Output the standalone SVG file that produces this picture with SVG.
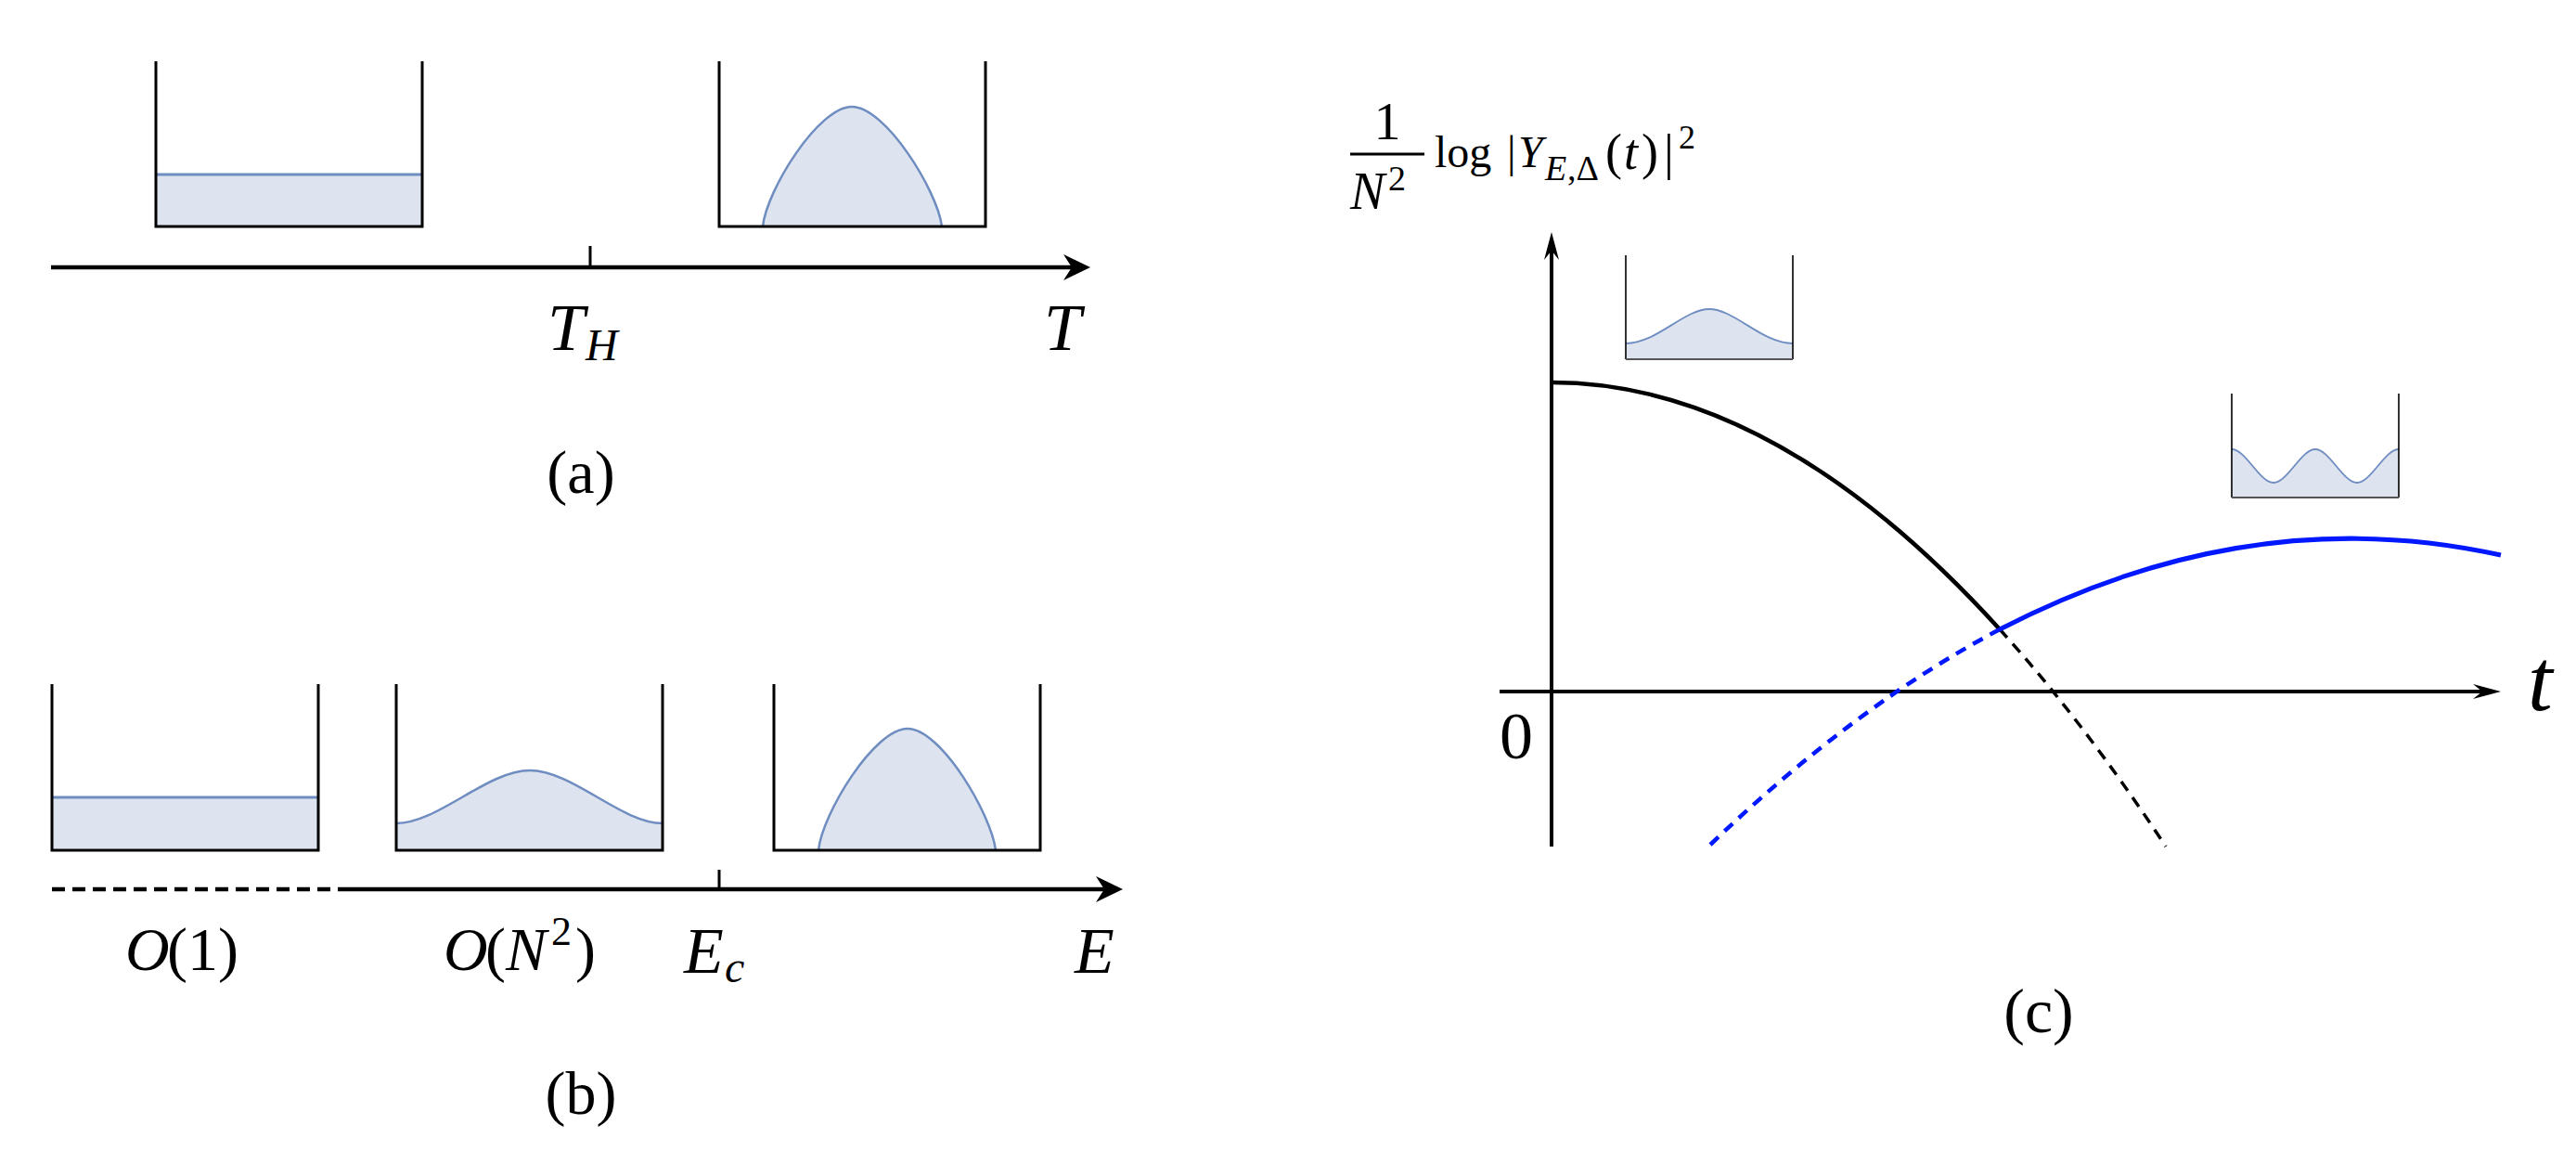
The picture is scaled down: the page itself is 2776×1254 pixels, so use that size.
<svg xmlns="http://www.w3.org/2000/svg" width="2776" height="1254" viewBox="0 0 2776 1254">
<style>
  .wall{fill:none;stroke:#000;stroke-width:3}
  .iwall{fill:none;stroke:#000;stroke-width:1.6}
  .ibot{fill:none;stroke:#555;stroke-width:2}
  .liq{fill:#dde4ef;stroke:#6f8dc0;stroke-width:2.5}
  .ax{fill:none;stroke:#000;stroke-width:4.5}
  .axc{fill:none;stroke:#000;stroke-width:4}
  .tick{fill:none;stroke:#000;stroke-width:3}
  .m{font-family:"Liberation Serif","DejaVu Serif",serif;fill:#000}
  .i{font-style:italic}
</style>
<defs>
  <marker id="arrA" markerUnits="userSpaceOnUse" orient="auto" overflow="visible" refX="0" refY="0" markerWidth="1" markerHeight="1">
    <path d="M20,0 L-9,-14 L0,0 L-9,14 Z" fill="#000"/>
  </marker>
  <marker id="arrC" markerUnits="userSpaceOnUse" orient="auto" overflow="visible" refX="0" refY="0" markerWidth="1" markerHeight="1">
    <path d="M20,0 L-10,-8 L0,0 L-10,8 Z" fill="#000"/>
  </marker>
</defs>
<rect width="2776" height="1254" fill="#fff"/>

<!-- Panel (a) -->
<g id="a-box-uniform">
  <rect x="168" y="188" width="287" height="56" fill="#dde4ef"/>
  <line x1="168" y1="188" x2="455" y2="188" stroke="#6f8dc0" stroke-width="3"/>
  <path class="wall" d="M168,66 V244 H455 V66"/>
</g>
<g id="a-box-peaked">
  <path class="liq" d="M822,244 C826,205 882,115 918,115 C954,115 1010,205 1015,244"/>
  <path class="wall" d="M775,66 V244 H1062 V66"/>
</g>
<g id="a-labels">
  <text class="m i" x="590" y="377" font-size="72">T</text>
  <text class="m i" x="631" y="388" font-size="48">H</text>
  <text class="m i" x="1125" y="377" font-size="72">T</text>
  <text class="m" x="626" y="531" font-size="66" text-anchor="middle">(a)</text>
</g>

<!-- Panel (b) -->
<g id="b-box-uniform">
  <rect x="56" y="859" width="287" height="57" fill="#dde4ef"/>
  <line x1="56" y1="859" x2="343" y2="859" stroke="#6f8dc0" stroke-width="3"/>
  <path class="wall" d="M56,737 V916 H343 V737"/>
</g>
<g id="b-box-gaussian">
  <path d="M427,887 C472,887 525,830 571,830 C617,830 670,887 714,887 V916 H427 Z" fill="#dde4ef"/>
  <path fill="none" stroke="#6f8dc0" stroke-width="2.5" d="M427,887 C472,887 525,830 571,830 C617,830 670,887 714,887"/>
  <path class="wall" d="M427,737 V916 H714 V737"/>
</g>
<g id="b-box-peaked">
  <path class="liq" d="M882,916 C886,877 942,785 978,785 C1014,785 1068,877 1073,916"/>
  <path class="wall" d="M834,737 V916 H1121 V737"/>
</g>
<g id="b-labels">
  <text class="m i" x="135" y="1045" font-size="66">O</text>
  <text class="m" x="180" y="1045" font-size="66">(1)</text>
  <text class="m i" x="478" y="1045" font-size="66">O</text>
  <text class="m" x="523" y="1045" font-size="66">(</text>
  <text class="m i" x="545" y="1045" font-size="66">N</text>
  <text class="m" x="594" y="1018" font-size="44">2</text>
  <text class="m" x="620" y="1045" font-size="66">)</text>
  <text class="m i" x="737" y="1048" font-size="70">E</text>
  <text class="m i" x="781" y="1058" font-size="48">c</text>
  <text class="m i" x="1158" y="1048" font-size="70">E</text>
  <text class="m" x="626" y="1200" font-size="66" text-anchor="middle">(b)</text>
</g>

<!-- Panel (c) -->
<g id="c-ylabel">
  <text class="m" x="1495" y="150" font-size="58" text-anchor="middle">1</text>
  <line x1="1455" y1="166" x2="1535" y2="166" stroke="#000" stroke-width="3"/>
  <text class="m i" x="1455" y="225" font-size="56">N</text>
  <text class="m" x="1496" y="205" font-size="38">2</text>
  <text class="m" x="1546" y="180" font-size="48">log</text>
  <text class="m" x="1624" y="180" font-size="48">|</text>
  <text class="m i" x="1636" y="180" font-size="48">Y</text>
  <text class="m i" x="1665" y="194" font-size="38">E</text>
  <text class="m" x="1689" y="194" font-size="38">,Δ</text>
  <text class="m" x="1730" y="182" font-size="54">(</text>
  <text class="m i" x="1750" y="182" font-size="54">t</text>
  <text class="m" x="1769" y="182" font-size="54">)</text>
  <text class="m" x="1793" y="182" font-size="54">|</text>
  <text class="m" x="1809" y="160" font-size="36">2</text>
</g>
<g id="c-inset-gaussian">
  <path d="M1752,370 C1785,370 1815,333 1842,333 C1869,333 1899,370 1932,370 V387 H1752 Z" fill="#dde4ef"/>
  <path fill="none" stroke="#6f8dc0" stroke-width="1.8" d="M1752,370 C1785,370 1815,333 1842,333 C1869,333 1899,370 1932,370"/>
  <path class="iwall" d="M1752,275 V387 M1932,275 V387"/>
  <line class="ibot" x1="1752" y1="387" x2="1932" y2="387"/>
</g>
<g id="c-inset-wave">
  <path d="M2405,484 C2420,484 2435,520 2450,520 C2465,520 2480,484 2495,484 C2510,484 2525,520 2540,520 C2555,520 2570,484 2585,484 V536 H2405 Z" fill="#dde4ef"/>
  <path fill="none" stroke="#6f8dc0" stroke-width="1.8" d="M2405,484 C2420,484 2435,520 2450,520 C2465,520 2480,484 2495,484 C2510,484 2525,520 2540,520 C2555,520 2570,484 2585,484"/>
  <path class="iwall" d="M2405,424 V536 M2585,424 V536"/>
  <line class="ibot" x1="2405" y1="536" x2="2585" y2="536"/>
</g>
<g id="c-labels">
  <text class="m" x="1616" y="817" font-size="72">0</text>
  <text class="m i" x="2724" y="765" font-size="96">t</text>
  <text class="m" x="2197" y="1112" font-size="68" text-anchor="middle">(c)</text>
</g>

<!-- Connectors: axes, ticks and curves -->
<g id="connectors">
  <line class="ax" x1="55" y1="288" x2="1155" y2="288" marker-end="url(#arrA)"/>
  <line class="tick" x1="636" y1="265" x2="636" y2="288"/>
  <line class="ax" x1="56" y1="958" x2="371" y2="958" stroke-dasharray="14 8"/>
  <line class="ax" x1="371" y1="958" x2="1190" y2="958" marker-end="url(#arrA)"/>
  <line class="tick" x1="775" y1="937" x2="775" y2="958"/>
  <line class="axc" x1="1616" y1="745" x2="2675" y2="745" marker-end="url(#arrC)"/>
  <line class="axc" x1="1672" y1="912" x2="1672" y2="270" marker-end="url(#arrC)"/>
  <path d="M1672,412 Q1913.5,412 2155,678" fill="none" stroke="#000" stroke-width="4.5"/>
  <path d="M2155,678 Q2244.5,776.5 2334,912" fill="none" stroke="#000" stroke-width="3.5" stroke-dasharray="12 9"/>
  <path d="M2155,678 Q2425,538.3 2695,598" fill="none" stroke="#0018ff" stroke-width="5"/>
  <path d="M2155,678 Q1998,761 1841,912" fill="none" stroke="#0018ff" stroke-width="4.5" stroke-dasharray="12 9"/>
</g>
</svg>
